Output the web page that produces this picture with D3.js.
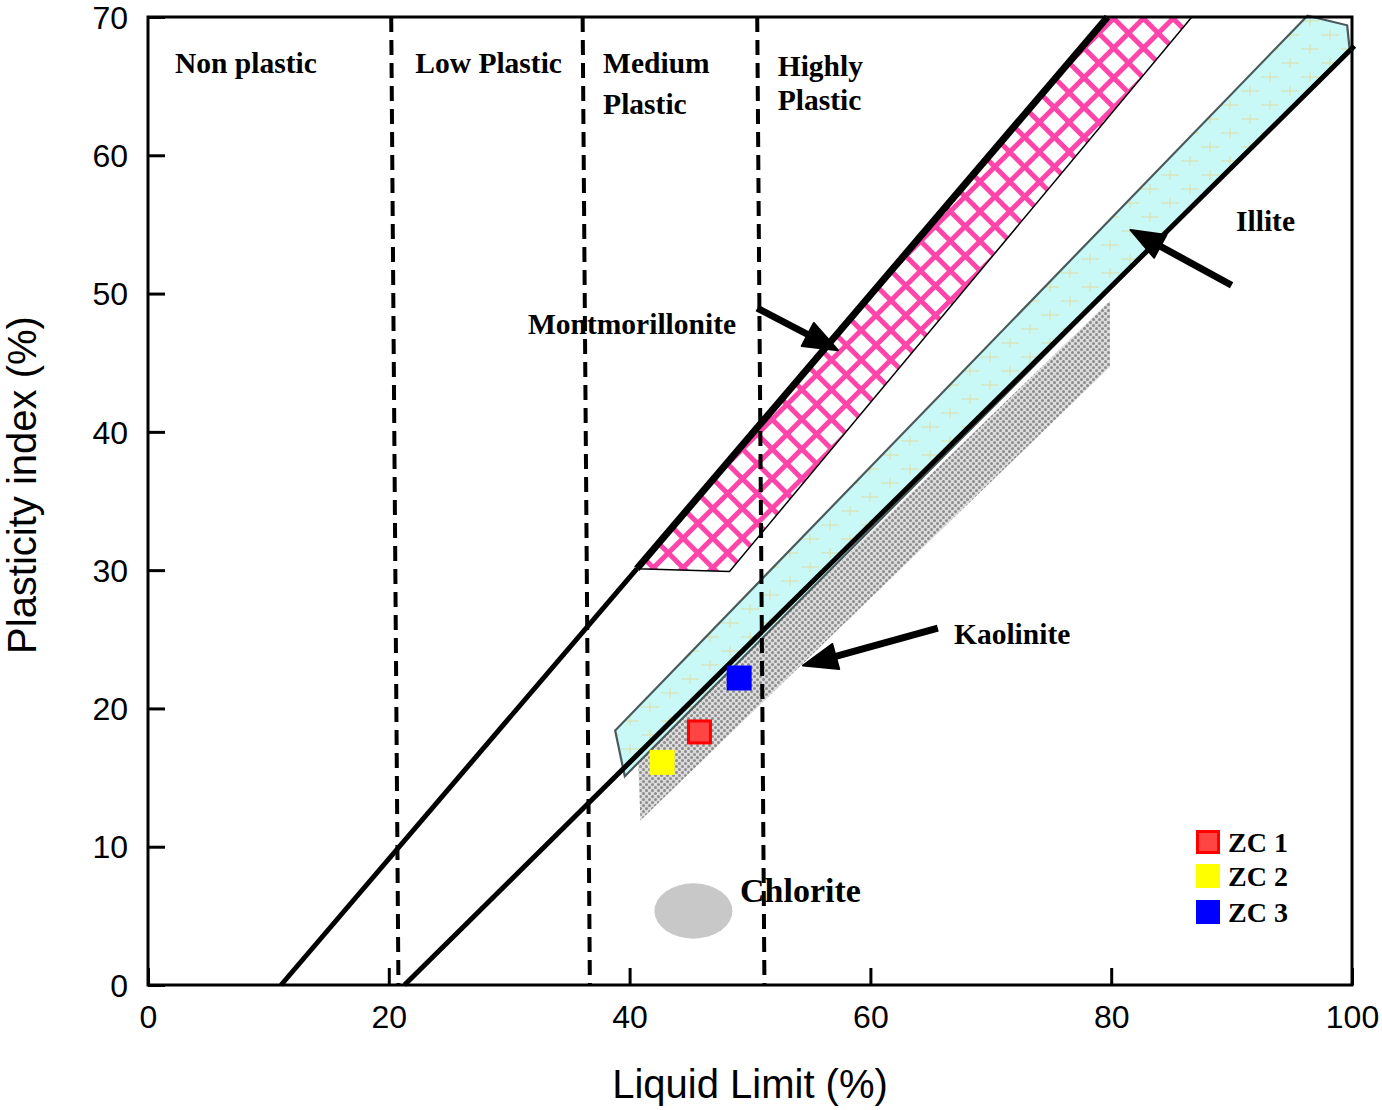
<!DOCTYPE html>
<html>
<head>
<meta charset="utf-8">
<script src="https://cdn.jsdelivr.net/npm/d3@7"></script>
<style>
  html, body { margin: 0; padding: 0; background: #fff; }
  svg { display: block; }
</style>
</head>
<body>
<svg id="chart" width="1382" height="1110"></svg>
<script>
// ---------------- data (Liquid Limit %, Plasticity index %) ----------------
const xTicks = [0, 20, 40, 60, 80, 100];
const yTicks = [0, 10, 20, 30, 40, 50, 60, 70];

// boundary lines
const upperLineLow  = [[11.05, 0], [40.6, 30.1]];
const upperLineHigh = [[40.6, 30.1], [79.7, 70]];
const lowerLine     = [[21.3, 0], [100.2, 67.9]];

// plasticity class dividers (dashed)
const dividerTop    = [20.2, 36.1, 50.6];
const dividerBottom = [20.8, 36.7, 51.2];

// mineral zones
const montmorillonite = [[40.6, 30.1], [48.3, 29.9], [86.7, 70], [79.7, 70]];
const illite          = [[38.8, 18.4], [39.6, 15.1], [99.8, 67.7], [99.6, 69.4], [96.3, 70.1]];
const kaolinite       = [[40.7, 16.4], [79.9, 49.5], [79.9, 44.7], [40.9, 11.9]];
const chloriteCenter  = [45.3, 5.35];
const chloriteRadius  = [3.24, 2.0];

// samples
const sampleNames = ["ZC 1", "ZC 2", "ZC 3"];
const sampleLL    = [45.8, 42.7, 49.1];
const samplePI    = [18.3, 16.1, 22.2];
const sampleFill  = ["#ff4444", "#ffff00", "#0000ff"];
const sampleStroke= ["#ff0000", "#ffff00", "#0000ff"];

// annotations
const classLabels = [
  {t: "Non plastic", ll: 2.24, pi: 65.95},
  {t: "Low Plastic", ll: 22.2, pi: 65.95},
  {t: "Medium", ll: 37.8, pi: 65.95},
  {t: "Plastic", ll: 37.8, pi: 63.0},
  {t: "Highly", ll: 52.3, pi: 65.75},
  {t: "Plastic", ll: 52.3, pi: 63.25}
];
const mineralLabels = [
  {t: "Montmorillonite", ll: 31.56, pi: 47.07, s: 29.5},
  {t: "Illite", ll: 90.37, pi: 54.52, s: 29.5},
  {t: "Kaolinite", ll: 66.94, pi: 24.66, s: 29.5},
  {t: "Chlorite", ll: 49.17, pi: 6.0, s: 34}
];
// arrows: [from, to]
const arrows = [
  [[50.6, 48.95], [57.3, 45.9]],
  [[90.0, 50.6], [81.6, 54.6]],
  [[65.6, 25.8], [54.4, 23.1]]
];

// ---------------- chart ----------------
const svg = d3.select("#chart");
const x = d3.scaleLinear().domain([0, 100]).range([148, 1352]);
const y = d3.scaleLinear().domain([0, 70]).range([985, 17]);
const line = d3.line().x(d => x(d[0])).y(d => y(d[1]));

const defs = svg.append("defs");
// pink grid
const P = 21;
const pg = defs.append("pattern").attr("id", "pinkGrid").attr("patternUnits", "userSpaceOnUse")
  .attr("width", P).attr("height", P).attr("patternTransform", "rotate(45)");
pg.append("rect").attr("width", P).attr("height", P).attr("fill", "#fff");
pg.append("line").attr("x1", 0).attr("y1", 2.5).attr("x2", P).attr("y2", 2.5).attr("stroke", "#ff44aa").attr("stroke-width", 5);
pg.append("line").attr("x1", 2.5).attr("y1", 0).attr("x2", 2.5).attr("y2", P).attr("stroke", "#ff44aa").attr("stroke-width", 5);
// illite: cyan with pale plus signs
const ip = defs.append("pattern").attr("id", "illitePat").attr("patternUnits", "userSpaceOnUse")
  .attr("width", 40).attr("height", 28);
ip.append("rect").attr("width", 40).attr("height", 28).attr("fill", "#c9f9f7");
[[10, 7], [30, 21]].forEach(([cx, cy]) => {
  ip.append("line").attr("x1", cx - 9).attr("x2", cx + 9).attr("y1", cy).attr("y2", cy).attr("stroke", "#dcdca6").attr("stroke-width", 1);
  ip.append("line").attr("x1", cx).attr("x2", cx).attr("y1", cy - 5).attr("y2", cy + 5).attr("stroke", "#dcdca6").attr("stroke-width", 1);
});
// kaolinite: gray dotted checker
const K = 6;
const kp = defs.append("pattern").attr("id", "kaoPat").attr("patternUnits", "userSpaceOnUse")
  .attr("width", K).attr("height", K);
kp.append("rect").attr("width", K).attr("height", K).attr("fill", "#dcdcdc");
kp.append("circle").attr("cx", 1.5).attr("cy", 1.5).attr("r", 1.5).attr("fill", "#8c8c8c");
kp.append("circle").attr("cx", 4.5).attr("cy", 4.5).attr("r", 1.5).attr("fill", "#8c8c8c");

// zones
svg.append("path").attr("d", line(kaolinite) + "Z").attr("fill", "url(#kaoPat)");
svg.append("path").attr("d", line(montmorillonite) + "Z").attr("fill", "url(#pinkGrid)")
  .attr("stroke", "#000").attr("stroke-width", 1.5);
svg.append("path").attr("d", line(illite) + "Z").attr("fill", "url(#illitePat)")
  .attr("stroke", "#4a5a5a").attr("stroke-width", 2.2);
svg.append("ellipse").attr("cx", x(chloriteCenter[0])).attr("cy", y(chloriteCenter[1]))
  .attr("rx", x(chloriteRadius[0]) - x(0)).attr("ry", y(0) - y(chloriteRadius[1]))
  .attr("fill", "#c8c8c8");

// dashed dividers
dividerTop.forEach((t, i) => {
  svg.append("line").attr("x1", x(t)).attr("y1", y(70)).attr("x2", x(dividerBottom[i])).attr("y2", y(0))
    .attr("stroke", "#000").attr("stroke-width", 4).attr("stroke-dasharray", "15,8");
});

// boundary lines
svg.append("path").attr("d", line(upperLineLow)).attr("stroke", "#000").attr("stroke-width", 5).attr("fill", "none");
svg.append("path").attr("d", line(upperLineHigh)).attr("stroke", "#000").attr("stroke-width", 7).attr("fill", "none");
svg.append("path").attr("d", line(lowerLine)).attr("stroke", "#000").attr("stroke-width", 5).attr("fill", "none");

// frame + axes
svg.append("rect").attr("x", x(0)).attr("y", y(70)).attr("width", x(100) - x(0)).attr("height", y(0) - y(70))
  .attr("fill", "none").attr("stroke", "#000").attr("stroke-width", 3);

const xAxis = svg.append("g").attr("transform", `translate(0,${y(0)})`)
  .call(d3.axisBottom(x).tickValues(xTicks).tickSize(-17).tickPadding(20).tickFormat(d3.format("d")));
const yAxis = svg.append("g").attr("transform", `translate(${x(0)},0)`)
  .call(d3.axisLeft(y).tickValues(yTicks).tickSize(-17).tickPadding(20).tickFormat(d3.format("d")));
[xAxis, yAxis].forEach(g => {
  g.select(".domain").remove();
  g.selectAll(".tick line").attr("stroke", "#000").attr("stroke-width", 3);
  g.selectAll(".tick text").attr("fill", "#000").attr("font-family", "Liberation Sans, Arial, sans-serif").attr("font-size", 32);
});
xAxis.selectAll(".tick text").attr("dy", "0.71em");
yAxis.selectAll(".tick text").attr("dy", "0.35em");

svg.append("text").attr("x", 750).attr("y", 1098).attr("text-anchor", "middle")
  .attr("font-family", "Liberation Sans, Arial, sans-serif").attr("font-size", 40).text("Liquid Limit (%)");
svg.append("text").attr("transform", "translate(36,485) rotate(-90)").attr("text-anchor", "middle")
  .attr("font-family", "Liberation Sans, Arial, sans-serif").attr("font-size", 40).text("Plasticity index (%)");

// labels
const serif = "Liberation Serif, Times New Roman, serif";
classLabels.forEach(d => {
  svg.append("text").attr("x", x(d.ll)).attr("y", y(d.pi)).attr("font-family", serif)
    .attr("font-weight", "bold").attr("font-size", 29.5).text(d.t);
});
mineralLabels.forEach(d => {
  svg.append("text").attr("x", x(d.ll)).attr("y", y(d.pi)).attr("font-family", serif)
    .attr("font-weight", "bold").attr("font-size", d.s).text(d.t);
});

// arrows
arrows.forEach(([a, b]) => {
  const x1 = x(a[0]), y1 = y(a[1]), x2 = x(b[0]), y2 = y(b[1]);
  const ang = Math.atan2(y2 - y1, x2 - x1);
  const hl = 34, hw = 13;
  const bx = x2 - hl * Math.cos(ang), by = y2 - hl * Math.sin(ang);
  svg.append("line").attr("x1", x1).attr("y1", y1).attr("x2", bx).attr("y2", by)
    .attr("stroke", "#000").attr("stroke-width", 7);
  const px = -Math.sin(ang), py = Math.cos(ang);
  svg.append("path").attr("d", `M${x2},${y2}L${bx + px * hw},${by + py * hw}L${bx - px * hw},${by - py * hw}Z`)
    .attr("fill", "#000").attr("stroke", "#000").attr("stroke-width", 2).attr("stroke-linejoin", "round");
});

// sample markers
const msz = 22;
sampleNames.forEach((n, i) => {
  svg.append("rect").attr("x", x(sampleLL[i]) - msz / 2).attr("y", y(samplePI[i]) - msz / 2)
    .attr("width", msz).attr("height", msz).attr("fill", sampleFill[i])
    .attr("stroke", sampleStroke[i]).attr("stroke-width", 3);
});

// legend
const lg = svg.append("g").attr("transform", "translate(1196,830)");
sampleNames.forEach((n, i) => {
  const yy = [0, 34, 70][i];
  lg.append("rect").attr("x", 1.5).attr("y", yy + 1.5).attr("width", 21).attr("height", 21)
    .attr("fill", sampleFill[i]).attr("stroke", sampleStroke[i]).attr("stroke-width", 3);
  lg.append("text").attr("x", 32).attr("y", yy + 22).attr("font-family", serif)
    .attr("font-weight", "bold").attr("font-size", 28).text(n);
});
</script>
</body>
</html>
